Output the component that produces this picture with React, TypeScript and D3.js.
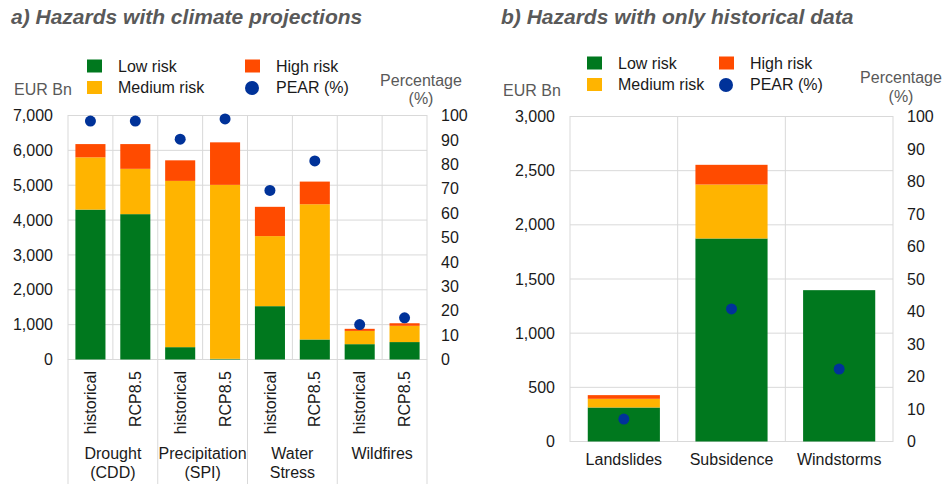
import * as d3 from "d3";
import React from "react";

const WIDTH = 952;
const HEIGHT = 484;
const FONT = "'Liberation Sans', Arial, sans-serif";

const GREEN = "#00781e";
const ORANGE = "#ffb400";
const RED = "#ff4b00";
const BLUE = "#003299";
const GRID = "#d9d9d9";
const TEXT = "#1a1a1a";
const GREY_TEXT = "#595959";

// a) hazards with climate projections
const leftScenarios = ["historical", "RCP8.5", "historical", "RCP8.5", "historical", "RCP8.5", "historical", "RCP8.5"];
const leftGroups = [["Drought", "(CDD)"], ["Precipitation", "(SPI)"], ["Water", "Stress"], ["Wildfires"]];
const leftLow = [4300, 4170, 354, 20, 1530, 574, 440, 500];
const leftMedium = [1500, 1300, 4770, 4990, 2010, 3880, 380, 466];
const leftHigh = [380, 710, 590, 1220, 840, 650, 60, 74];
const leftPear = [97.7, 97.7, 90.3, 98.6, 69.3, 81.4, 14.3, 17.1];
const leftTicks = [0, 1000, 2000, 3000, 4000, 5000, 6000, 7000];

// b) hazards with only historical data
const rightCategories = ["Landslides", "Subsidence", "Windstorms"];
const rightLow = [314, 1874, 1397];
const rightMedium = [80, 498, 0];
const rightHigh = [34, 182, 0];
const rightPear = [6.9, 40.8, 22.3];
const rightTicks = [0, 500, 1000, 1500, 2000, 2500, 3000];

const pctTicks = [0, 10, 20, 30, 40, 50, 60, 70, 80, 90, 100];
const riskKeys = ["low", "medium", "high"];
const riskColors = [GREEN, ORANGE, RED];

type Row = { id: string; low: number; medium: number; high: number; pear: number };

const fmt = d3.format(",");

const Legend: React.FC<{ x1: number; x2: number; row1: number; row2: number }> = ({ x1, x2, row1, row2 }) => {
    const items = [
        { label: "Low risk", x: x1, y: row1, color: GREEN, dot: false },
        { label: "Medium risk", x: x1, y: row2, color: ORANGE, dot: false },
        { label: "High risk", x: x2, y: row1, color: RED, dot: false },
        { label: "PEAR (%)", x: x2, y: row2, color: BLUE, dot: true },
    ];
    return (
        <g fontFamily={FONT} fontSize={16} fill={TEXT}>
            {items.map((it) => (
                <g key={it.label}>
                    {it.dot ? (
                        <circle cx={it.x + 7} cy={it.y - 5} r={7} fill={it.color} />
                    ) : (
                        <rect x={it.x} y={it.y - 12} width={15} height={13} fill={it.color} />
                    )}
                    <text x={it.x + 31} y={it.y}>
                        {it.label}
                    </text>
                </g>
            ))}
        </g>
    );
};

const Panel: React.FC<{
    rows: Row[];
    left: number;
    right: number;
    top: number;
    bottom: number;
    yMax: number;
    ticks: number[];
}> = ({ rows, left, right, top, bottom, yMax, ticks }) => {
    const x = d3
        .scaleBand()
        .domain(rows.map((r) => r.id))
        .range([left, right])
        .padding(0);
    const y = d3.scaleLinear().domain([0, yMax]).range([bottom, top]);
    const yPct = d3.scaleLinear().domain([0, 100]).range([bottom, top]);
    const stack = d3.stack<Row>().keys(riskKeys);
    const series = stack(rows);
    const barW = x.bandwidth() * 0.67;

    return (
        <g>
            {ticks.map((t) => (
                <line key={"h" + t} x1={left} x2={right} y1={y(t)} y2={y(t)} stroke={GRID} strokeWidth={1} />
            ))}
            {rows.map((r, i) =>
                i === 0 ? null : (
                    <line key={"v" + r.id} x1={x(r.id)} x2={x(r.id)} y1={top} y2={bottom} stroke={GRID} strokeWidth={1} />
                )
            )}
            <rect x={left} y={top} width={right - left} height={bottom - top} fill="none" stroke={GRID} strokeWidth={1} />
            {series.map((s, si) => (
                <g key={s.key} fill={riskColors[si]}>
                    {s.map((d, i) =>
                        d[1] - d[0] > 0 ? (
                            <rect
                                key={i}
                                x={(x(rows[i].id) as number) + (x.bandwidth() - barW) / 2}
                                y={y(d[1])}
                                width={barW}
                                height={y(d[0]) - y(d[1])}
                            />
                        ) : null
                    )}
                </g>
            ))}
            {rows.map((r) => (
                <circle
                    key={"p" + r.id}
                    cx={(x(r.id) as number) + x.bandwidth() / 2}
                    cy={yPct(r.pear)}
                    r={5.5}
                    fill={BLUE}
                />
            ))}
            <g fontFamily={FONT} fontSize={16} fill={TEXT}>
                {ticks.map((t) => (
                    <text key={"l" + t} x={left - 15} y={y(t)} dy="0.35em" textAnchor="end">
                        {fmt(t)}
                    </text>
                ))}
                {pctTicks.map((t) => (
                    <text key={"r" + t} x={right + 14} y={yPct(t)} dy="0.35em">
                        {t}
                    </text>
                ))}
            </g>
        </g>
    );
};

const App: React.FC = () => {
    const leftRows: Row[] = leftScenarios.map((s, i) => ({
        id: String(i),
        low: leftLow[i],
        medium: leftMedium[i],
        high: leftHigh[i],
        pear: leftPear[i],
    }));
    const rightRows: Row[] = rightCategories.map((c, i) => ({
        id: c,
        low: rightLow[i],
        medium: rightMedium[i],
        high: rightHigh[i],
        pear: rightPear[i],
    }));

    const L = { left: 68, right: 427, top: 115.5, bottom: 359.5 };
    const R = { left: 570, right: 893, top: 116.5, bottom: 441.5 };

    const xL = d3
        .scaleBand()
        .domain(leftRows.map((r) => r.id))
        .range([L.left, L.right]);
    const xGroup = d3
        .scaleBand()
        .domain(leftGroups.map((g) => g[0]))
        .range([L.left, L.right]);
    const xR = d3.scaleBand().domain(rightCategories).range([R.left, R.right]);

    return (
        <svg width={WIDTH} height={HEIGHT} style={{ position: "absolute", left: 0, top: 0, background: "#fff" }}>
            <g fontFamily={FONT} fontSize={21} fontWeight="bold" fontStyle="italic" fill={GREY_TEXT}>
                <text x={11} y={24}>
                    a) Hazards with climate projections
                </text>
                <text x={501} y={24}>
                    b) Hazards with only historical data
                </text>
            </g>

            <Legend x1={87} x2={245} row1={71.5} row2={93} />
            <Legend x1={587} x2={719} row1={68.5} row2={90} />

            <g fontFamily={FONT} fontSize={16} fill={GREY_TEXT}>
                <text x={14} y={95}>EUR Bn</text>
                <text x={421} y={86} textAnchor="middle">Percentage</text>
                <text x={421} y={104} textAnchor="middle">(%)</text>
                <text x={503} y={96}>EUR Bn</text>
                <text x={901} y={83} textAnchor="middle">Percentage</text>
                <text x={901} y={102} textAnchor="middle">(%)</text>
            </g>

            <Panel rows={leftRows} {...L} yMax={7000} ticks={leftTicks} />
            <Panel rows={rightRows} {...R} yMax={3000} ticks={rightTicks} />

            {/* group separators below the left chart */}
            {leftGroups.map((g, i) => (
                <line
                    key={"gs" + i}
                    x1={xGroup(g[0])}
                    x2={xGroup(g[0])}
                    y1={L.bottom}
                    y2={HEIGHT}
                    stroke={GRID}
                    strokeWidth={1}
                />
            ))}
            <line x1={L.right} x2={L.right} y1={L.bottom} y2={HEIGHT} stroke={GRID} strokeWidth={1} />

            <g fontFamily={FONT} fontSize={16} fill={TEXT}>
                {leftRows.map((r, i) => {
                    const cx = (xL(r.id) as number) + xL.bandwidth() / 2;
                    return (
                        <text
                            key={"sc" + i}
                            transform={`translate(${cx},371) rotate(-90)`}
                            textAnchor="end"
                            dy="0.35em"
                        >
                            {leftScenarios[i]}
                        </text>
                    );
                })}
                {leftGroups.map((g) => {
                    const cx = (xGroup(g[0]) as number) + xGroup.bandwidth() / 2;
                    return (
                        <text key={"g" + g[0]} textAnchor="middle">
                            {g.map((line, li) => (
                                <tspan key={li} x={cx} y={459 + li * 19}>
                                    {line}
                                </tspan>
                            ))}
                        </text>
                    );
                })}
                {rightCategories.map((c) => (
                    <text key={c} x={(xR(c) as number) + xR.bandwidth() / 2} y={465} textAnchor="middle">
                        {c}
                    </text>
                ))}
            </g>
        </svg>
    );
};

export default App;
